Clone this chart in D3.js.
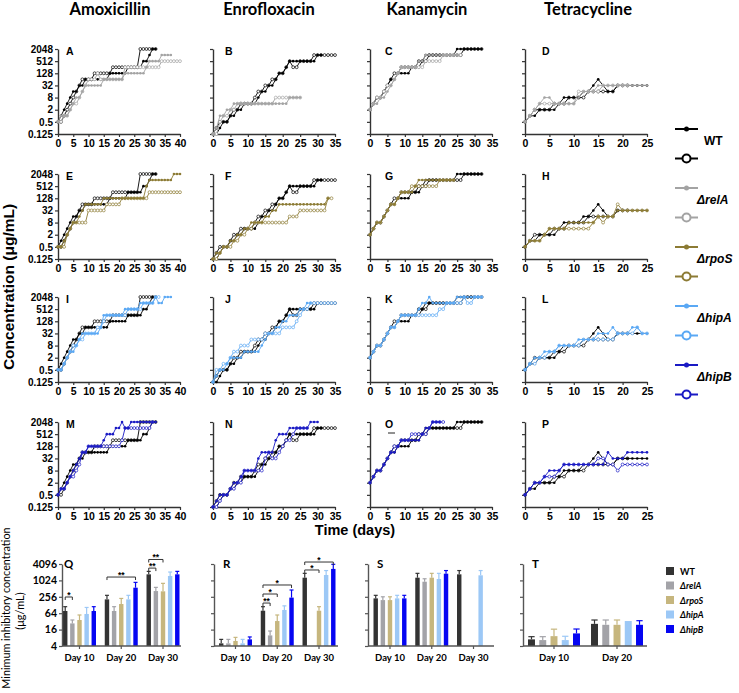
<!DOCTYPE html>
<html lang="en">
<head>
<meta charset="utf-8" />
<title>MIC evolution</title>
<style>
  body { margin: 0; padding: 0; background: #fff; }
</style>
<script src="https://d3js.org/d3.v7.min.js"></script>
</head>
<body>
<div id="chart"></div>
<script>
// ---- line panels: log2 of MIC (ug/mL), one value per day (index = day) ----
// "_a" = run drawn with filled markers, "_b" = run drawn with open markers
const amoxWT_a = [-1,0,1,2,3,4,4,5,5,6,6,6,6,6,6,6,6,7,7,7,7,7,7,8,8,8,8,8,9,9,10,11,11];
const amoxWT_b = [-1,-1,0,1,2,3,4,5,6,6,6,6,7,7,7,7,7,7,8,8,8,8,8,8,8,8,8,11,11,11,11,11,11];
const amoxRelA_a = [-1,0,0,0,1,2,3,3,4,5,5,5,5,5,5,6,6,6,6,6,6,6,7,7,7,7,7,7,7,8,9,9,9,9,10,10,10,10];
const amoxRelA_b = [-1,-1,0,0,1,2,2,3,4,5,6,6,6,7,6,6,6,6,6,6,6,6,8,8,8,8,8,8,8,8,8,8,8,8,9,9,9,9,9,9,9];
const amoxRpoS_a = [-1,-1,0,1,2,3,3,4,5,6,6,6,6,6,6,7,7,7,7,7,7,7,7,7,7,7,7,7,7,9,10,10,10,10,10,10,10,10,11,11,11];
const amoxRpoS_b = [-1,-1,-1,1,2,3,3,3,3,3,5,5,5,5,5,5,6,6,6,6,6,7,7,7,7,7,7,7,7,7,8,8,8,8,8,8,8,8,8,8,8];
const amoxHipA_a = [-1,-1,0,1,2,2,3,4,5,5,5,5,5,5,6,8,8,8,8,8,8,8,9,9,9,9,9,10,10,10,10,10,11,10,10,11,11,11];
const amoxHipA_b = [-1,-1,0,1,2,3,3,4,4,5,5,5,5,6,6,7,8,8,8,8,8,8,8,9,9,9,9,9,10,10,10,10,11,11];
const amoxHipB_a = [-1,0,0,1,2,3,4,5,6,6,7,7,7,7,7,8,9,9,9,10,10,11,10,10,11,11,11,11,11,11,11,11,11];
const amoxHipB_b = [-1,0,0,1,2,2,3,4,6,6,7,7,7,7,7,7,7,7,7,7,7,8,10,10,10,10,10,10,10,10,10,11];

const enroWT_a = [-3,-3,-2,-1,-1,0,0,1,1,2,2,2,2,3,4,4,5,5,6,7,7,8,9,9,9,9,9,9,9,9,10,10];
const enroWT_b = [-3,-2,-1,-1,-1,0,1,1,2,2,2,2,3,4,4,5,5,6,6,7,7,8,9,8,8,9,9,9,9,10,10,10,10,10,10,10];
const enroRelA_a = [-3,-2,0,0,1,1,2,2,2,2,2,2,2,2,2,2,2,2,2,2,2,2,3,3,3,3];
const enroRelA_b = [-3,-3,-1,0,0,1,1,2,2,2,2,2,2,2,2,2,2,2,3,3,3,3,3,3,3,3];
const enroRpoS_a = [-3,-2,-2,-1,-1,0,0,1,1,2,2,3,3,3,3,4,4,5,5,6,6,6,6,6,6,6,6,6,6,6,6,6,6,7];
const enroRpoS_b = [-3,-3,-2,-1,-1,-1,0,0,1,1,2,2,3,3,3,3,3,3,3,3,3,3,4,4,4,5,5,5,5,5,5,5,5,7,7];
const enroHipA_a = [-3,-2,-1,-1,0,1,1,1,1,2,2,2,2,2,3,4,5,5,6,6,7,7,8,8,8,9,9,10,10];
const enroHipA_b = [-3,-1,-1,0,0,1,2,2,3,3,3,4,4,4,4,5,5,5,5,5,6,6,6,6,7,8,9,9,10,10,10,10,10,10,10,10];
const enroHipB_a = [-3,-2,-1,-1,-1,0,1,1,2,3,3,3,3,5,6,6,6,6,8,9,9,9,10,10,10,10,10,10,11,11,11];
const enroHipB_b = [-3,-3,-2,-1,-1,0,0,1,1,3,3,3,3,3,3,5,6,5,5,6,7,8,8,9,10,10,10,10];

const kanaWT_a = [1,2,3,3,4,5,6,6,7,7,7,7,8,8,8,9,10,10,10,10,10,10,10,10,10,11,11,11,11,11,11,11,11];
const kanaWT_b = [1,2,3,3,4,5,6,7,7,8,8,8,8,8,9,9,9,10,10,10,10,10,10,10,10,10,10,11,11,11,11,11,11];
const kanaRelA_a = [1,2,2,3,3,4,5,6,7,8,8,8,8,8,9,9,10,10,10,10,10,10,10,10,10,10];
const kanaRelA_b = [1,2,3,3,4,5,5,6,7,8,8,8,8,8,8,8,9,9,9,9,9,10,10,10,10,10,10];
const kanaRpoS_a = [1,2,3,3,4,5,6,6,7,8,8,8,8,9,10,10,10,10,10,10,10,10,10,10,10];
const kanaRpoS_b = [1,2,3,3,4,5,6,6,7,8,8,8,9,9,9,9,9,9,9,9,10,10,10,10,10];
const kanaHipA_a = [1,2,3,3,4,5,6,6,7,8,8,8,8,8,9,10,10,11,10,10,10,10,10,10,10,11,11,11,11,11,11,11,11];
const kanaHipA_b = [1,2,3,3,4,5,6,6,7,8,8,8,8,8,8,8,8,8,8,8,9,9,10,10,10,10,10,11,10,10,11,11,11];
const kanaHipB_a = [1,2,3,3,4,5,6,6,7,8,8,8,8,8,8,9,10,10,11,11,11];
const kanaHipB_b = [1,2,3,3,4,5,6,7,7,8,8,8,9,9,9,9,9,10,11,11,11,11];

const tetWT_a = [-1,0,0,1,1,1,1,2,3,3,3,3,4,4,5,6,5,4,4,5,5,5,5,5,5,5];
const tetWT_b = [-1,0,1,1,1,1,2,2,2,3,3,3,3,4,4,4,4,4,4,5,5,5];
const tetRelA_a = [-1,0,1,2,3,3,2,2,2,2,2,3,4,4,4,5,5,5,5,5,5,5,5,5,5,5];
const tetRelA_b = [-1,0,1,2,2,2,2,2,2,2,2,4,4,4,4,4,5,5,5,5,5,5];
const tetRpoS_a = [-1,0,0,0,1,2,2,2,2,3,3,3,3,3,3,4,4,4,4,5,5,5,5,5,5,5];
const tetRpoS_b = [-1,0,0,0,1,2,2,2,2,2,2,2,2,2,3,4,3,4,4,6,5,5,5,5,5,5];
const tetHipA_a = [-1,0,1,1,2,2,2,3,3,3,3,4,4,4,4,5,5,5,6,5,5,5,6,6,5,5];
const tetHipA_b = [-1,0,0,1,1,2,2,3,3,3,3,3,4,4,4,4,4,4,4,5,5,5,5,6,5,5];
const tetHipB_a = [-1,0,1,1,2,3,3,3,4,4,4,4,4,4,4,4,4,6,5,5,5,6,6,6,6,6];
const tetHipB_b = [-1,0,1,1,2,2,2,3,4,4,4,4,4,4,4,5,5,4,4,3,4,4,4,4,4,4];

const drugs = ["Amoxicillin", "Enrofloxacin", "Kanamycin", "Tetracycline"];
const dayMax = [40, 35, 35, 25];
const strains = ["WT", "\u0394relA", "\u0394rpoS", "\u0394hipA", "\u0394hipB"];
const concTicks = [0.125, 0.5, 2, 8, 32, 128, 512, 2048];
const concLabels = ["0.125", "0.5", "2", "8", "32", "128", "512", "2048"];
const panelLetters = ["A","B","C","D","E","F","G","H","I","J","K","L","M","N","O","P"];

const wtRuns = [[amoxWT_a, amoxWT_b], [enroWT_a, enroWT_b], [kanaWT_a, kanaWT_b], [tetWT_a, tetWT_b]];
const mutantRuns = [
  [[amoxRelA_a, amoxRelA_b], [enroRelA_a, enroRelA_b], [kanaRelA_a, kanaRelA_b], [tetRelA_a, tetRelA_b]],
  [[amoxRpoS_a, amoxRpoS_b], [enroRpoS_a, enroRpoS_b], [kanaRpoS_a, kanaRpoS_b], [tetRpoS_a, tetRpoS_b]],
  [[amoxHipA_a, amoxHipA_b], [enroHipA_a, enroHipA_b], [kanaHipA_a, kanaHipA_b], [tetHipA_a, tetHipA_b]],
  [[amoxHipB_a, amoxHipB_b], [enroHipB_a, enroHipB_b], [kanaHipB_a, kanaHipB_b], [tetHipB_a, tetHipB_b]]
];

// ---- bar panels: MIC (ug/mL) mean and top of error bar, [day][strain] ----
const barDays = ["Day 10", "Day 20", "Day 30"];
const micTicks = [4, 16, 64, 256, 1024, 4096];
const micQ = [[77, 27, 36, 60, 77], [206, 77, 139, 206, 553], [1710, 416, 407, 1489, 1710]];
const errQ = [[111, 36, 55, 104, 111], [290, 111, 223, 290, 867], [2195, 568, 798, 2077, 2195]];
const micR = [[5, 5, 6.1, 5, 7], [79, 9.8, 33, 84, 239], [1287, null, 79, 1618, 2702]];
const errR = [[7, 7, 8.3, 7, 8.6], [111, 14.2, 55, 119, 455], [1859, null, 111, 2353, 3983]];
const micS = [[224, 194, 194, 224, 224], [1287, 916, 1287, 1152, 1808], [1710, null, null, 1574, null]];
const errS = [[290, 256, 256, 290, 290], [1859, 1176, 1859, 1859, 2353], [2353, null, null, 2353, null]];
const micT = [[7, 6.6, 9.2, 6.6, 11.6], [26, 24, 24, 33, 24]];
const errT = [[8.8, 8.8, 16.6, 9.1, 16.8], [36, 36, 36, 33, 34]];
// significance: [day, strain from, strain to, bracket level (ug/mL), label]
const sigQ = [[0, 0, 1, 252, "*"], [1, 0, 4, 1360, "**"], [2, 0, 1, 2900, "**"], [2, 0, 2, 6000, "**"]];
const sigR = [[1, 0, 1, 151, "**"], [1, 0, 2, 324, "*"], [1, 0, 4, 695, "*"], [2, 0, 2, 2470, "*"], [2, 0, 4, 4840, "*"]];
const sigS = [];
const sigT = [];

const lineColors = ["#000000", "#a3a3a3", "#8c7b34", "#5aa8f4", "#1a1ac4"];
const barColors = ["#333333", "#a3a3a8", "#c6b67e", "#9cc8f6", "#0505f2"];

const ARIAL = "'Liberation Sans', Arial, sans-serif";
const CAL = "Lato, 'Open Sans', sans-serif";

const svg = d3.select("#chart").append("svg")
  .attr("width", 739).attr("height", 693)
  .style("background", "#fff");

// column titles
const titleX = [110, 269, 427, 588];
drugs.forEach((d, i) => {
  svg.append("text").attr("x", titleX[i]).attr("y", 15)
    .attr("text-anchor", "middle").attr("font-family", CAL)
    .attr("font-weight", "bold").attr("font-size", 16.5).text(d);
});

// ---- line panels ----
const colX = [58, 213, 370, 525], rowY = [49, 174, 297, 422];
const PW = 122, PH = 85;
const letterOff = [8, 12, 15, 17];

function styleAxis(sel, color, fam, size) {
  sel.select(".domain").attr("stroke", color).attr("stroke-width", 1.4);
  sel.selectAll(".tick line").attr("stroke", color).attr("stroke-width", 1.2);
  sel.selectAll(".tick text").attr("fill", "#000").attr("font-family", fam)
    .attr("font-size", size).attr("font-weight", "bold");
}

function drawRun(g, x, y, arr, color, open) {
  const line = d3.line().x((v, i) => x(i)).y(v => y(Math.pow(2, v)));
  g.append("path").datum(arr).attr("d", line)
    .attr("fill", "none").attr("stroke", color).attr("stroke-width", 0.9);
  g.selectAll(null).data(arr).join("circle")
    .attr("cx", (v, i) => x(i)).attr("cy", v => y(Math.pow(2, v)))
    .attr("r", open ? 1.45 : 1.3)
    .attr("fill", open ? "#fff" : color)
    .attr("stroke", color).attr("stroke-width", open ? 0.7 : 0);
}

mutantRuns.forEach((row, r) => {
  row.forEach((runs, c) => {
    const x = d3.scaleLinear().domain([0, dayMax[c]]).range([colX[c], colX[c] + PW]);
    const y = d3.scaleLog().base(2).domain([0.125, 2048]).range([rowY[r] + PH, rowY[r]]);
    const g = svg.append("g");
    const ax = g.append("g").attr("transform", `translate(${colX[c]},0)`)
      .call(d3.axisLeft(y).tickValues(concTicks)
        .tickFormat((d, i) => c === 0 ? concLabels[i] : "")
        .tickSize(3).tickPadding(2).tickSizeOuter(0));
    styleAxis(ax, "#333", ARIAL, 10);
    const bx = g.append("g").attr("transform", `translate(0,${rowY[r] + PH})`)
      .call(d3.axisBottom(x).tickValues(d3.range(0, dayMax[c] + 1, 5))
        .tickSize(3).tickPadding(3).tickSizeOuter(0));
    styleAxis(bx, "#333", ARIAL, 10.5);

    drawRun(g, x, y, wtRuns[c][1], lineColors[0], true);
    drawRun(g, x, y, wtRuns[c][0], lineColors[0], false);
    drawRun(g, x, y, runs[1], lineColors[r + 1], true);
    drawRun(g, x, y, runs[0], lineColors[r + 1], false);

    g.append("text").attr("x", colX[c] + letterOff[c]).attr("y", rowY[r] + 6)
      .attr("font-family", ARIAL).attr("font-weight", "bold").attr("font-size", 10.5)
      .text(panelLetters[r * 4 + c]);
  });
});
// small stray mark under panel O
svg.append("line").attr("x1", 388).attr("x2", 395).attr("y1", 433).attr("y2", 433)
  .attr("stroke", "#222").attr("stroke-width", 1);

svg.append("text").attr("transform", "translate(14,287) rotate(-90)")
  .attr("text-anchor", "middle").attr("font-family", ARIAL)
  .attr("font-weight", "bold").attr("font-size", 15.5).text("Concentration (\u03bcg/mL)");
svg.append("text").attr("x", 355).attr("y", 535)
  .attr("text-anchor", "middle").attr("font-family", ARIAL)
  .attr("font-weight", "bold").attr("font-size", 14.5).text("Time (days)");

// top legend
strains.forEach((s, i) => {
  [0, 1].forEach(k => {
    const ly = 129 + (i * 2 + k) * 29.5;
    svg.append("line").attr("x1", 675).attr("x2", 698).attr("y1", ly).attr("y2", ly)
      .attr("stroke", lineColors[i]).attr("stroke-width", 2);
    svg.append("circle").attr("cx", 686.5).attr("cy", ly)
      .attr("r", k ? 4 : 2.5).attr("fill", k ? "#fff" : lineColors[i])
      .attr("stroke", lineColors[i]).attr("stroke-width", k ? 2 : 0);
  });
  svg.append("text").attr("x", i === 0 ? 704 : 697).attr("y", 129 + i * 59 + 16)
    .attr("font-family", ARIAL).attr("font-weight", "bold").attr("font-size", 12)
    .attr("font-style", i === 0 ? "normal" : "italic").text(s);
});

// ---- bar panels ----
const barTop = 564, barBot = 646;
const barPanels = [
  { letter: "Q", mic: micQ, err: errQ, sig: sigQ, axisX: 62, r0: 63, r1: 179.5, end: 181, pad: 0.21, labels: true },
  { letter: "R", mic: micR, err: errR, sig: sigR, axisX: 214, r0: 219, r1: 335.5, end: 338, pad: 0.21, labels: false },
  { letter: "S", mic: micS, err: errS, sig: sigS, axisX: 368, r0: 373.5, r1: 490, end: 494, pad: 0.21, labels: false },
  { letter: "T", mic: micT, err: errT, sig: sigT, axisX: 523, r0: 528, r1: 643, end: 647, pad: 0.175, labels: false }
];

barPanels.forEach(p => {
  const days = barDays.slice(0, p.mic.length);
  const xb = d3.scaleBand().domain(days).range([p.r0, p.r1]).paddingInner(p.pad).paddingOuter(0);
  const xs = d3.scaleBand().domain(d3.range(5)).range([0, xb.bandwidth()]).paddingInner(0.38);
  const y = d3.scaleLog().base(2).domain([4, 4096]).range([barBot, barTop]);
  const g = svg.append("g");

  p.mic.forEach((vals, di) => {
    vals.forEach((v, si) => {
      if (v == null) return;
      const bx = xb(days[di]) + xs(si);
      const cx = bx + xs.bandwidth() / 2;
      const e = p.err[di][si];
      if (e != null && e > v) {
        g.append("line").attr("x1", cx).attr("x2", cx).attr("y1", y(v)).attr("y2", y(e))
          .attr("stroke", barColors[si]).attr("stroke-width", 1.2);
        g.append("line").attr("x1", cx - xs.bandwidth() * 0.45).attr("x2", cx + xs.bandwidth() * 0.45)
          .attr("y1", y(e)).attr("y2", y(e))
          .attr("stroke", barColors[si]).attr("stroke-width", 1.2);
      }
      g.append("rect").attr("x", bx).attr("y", y(v))
        .attr("width", xs.bandwidth()).attr("height", barBot - y(v))
        .attr("fill", barColors[si]);
    });
  });

  const ay = g.append("g").attr("transform", `translate(${p.axisX},0)`)
    .call(d3.axisLeft(y).tickValues(micTicks)
      .tickFormat(d => p.labels ? d : "").tickSize(3).tickPadding(2).tickSizeOuter(0));
  styleAxis(ay, "#555", CAL, 10.5);
  g.append("line").attr("x1", p.axisX).attr("x2", p.end).attr("y1", barBot).attr("y2", barBot)
    .attr("stroke", "#555").attr("stroke-width", 1.4);
  days.forEach(d => {
    const cx = xb(d) + xb.bandwidth() / 2;
    g.append("line").attr("x1", cx).attr("x2", cx).attr("y1", barBot).attr("y2", barBot + 3)
      .attr("stroke", "#555").attr("stroke-width", 1.2);
    g.append("text").attr("x", cx).attr("y", barBot + 15).attr("text-anchor", "middle")
      .attr("font-family", CAL).attr("font-weight", "bold").attr("font-size", 9.5).text(d);
  });

  p.sig.forEach(([di, a, b, lvl, lab]) => {
    const xa = xb(days[di]) + xs(a) + xs.bandwidth() / 2;
    const xe = xb(days[di]) + xs(b) + xs.bandwidth() / 2;
    const yy = y(lvl);
    g.append("path").attr("d", `M${xa},${yy + 3}V${yy}H${xe}V${yy + 3}`)
      .attr("fill", "none").attr("stroke", "#333").attr("stroke-width", 1);
    g.append("text").attr("x", (xa + xe) / 2).attr("y", yy + 1).attr("text-anchor", "middle")
      .attr("font-family", ARIAL).attr("font-weight", "bold").attr("font-size", 8.5).text(lab);
  });

  g.append("text").attr("x", p.axisX + (p.letter === "Q" ? 2 : 9)).attr("y", 568)
    .attr("font-family", CAL).attr("font-weight", "bold").attr("font-size", 11.5).text(p.letter);
});

svg.append("text").attr("transform", "translate(10,608) rotate(-90)")
  .attr("text-anchor", "middle").attr("font-family", CAL).attr("font-size", 10.8)
  .text("Minimum inhibitory concentration");
svg.append("text").attr("transform", "translate(24,611) rotate(-90)")
  .attr("text-anchor", "middle").attr("font-family", CAL).attr("font-size", 11)
  .text("(\u03bcg/mL)");

// bar legend
strains.forEach((s, i) => {
  const ly = 567 + i * 14.5;
  svg.append("rect").attr("x", 666).attr("y", ly).attr("width", 8).attr("height", 8)
    .attr("fill", barColors[i]);
  svg.append("text").attr("x", 680).attr("y", ly + 7.5)
    .attr("font-family", CAL).attr("font-weight", "bold").attr("font-size", 9)
    .attr("font-style", i === 0 ? "normal" : "italic").text(s);
});
</script>
</body>
</html>
